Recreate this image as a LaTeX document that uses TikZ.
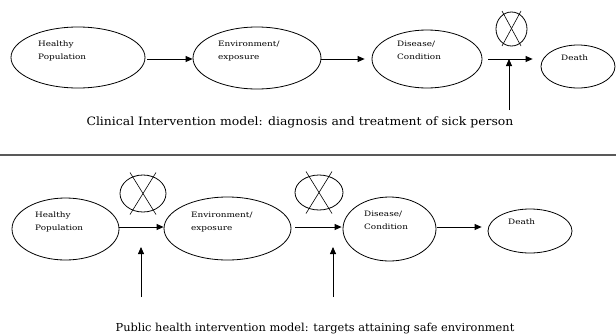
\documentclass[tikz,border=0pt]{standalone}
\usepackage{fontspec}
\setmainfont{DejaVu Serif}
\newfontfamily\lblfont[FakeStretch=1.2]{DejaVu Serif}
\newfontfamily\capfonta[FakeStretch=1.08]{DejaVu Serif}
\newfontfamily\capfontb[FakeStretch=1.035]{DejaVu Serif}
\usetikzlibrary{shapes.geometric,arrows.meta,calc}
\begin{document}
\begin{tikzpicture}[x=1pt,y=-1pt,
  ell/.style={draw,ellipse,inner sep=0pt,line width=0.8pt},
  lbl/.style={anchor=north west,inner sep=0pt,align=left,font=\lblfont\fontsize{7.4}{13}\selectfont},
  captext/.style={anchor=base,inner sep=0pt},
  arr/.style={-{Triangle[length=7pt,width=6pt]},line width=0.8pt},
  xl/.style={line width=0.6pt}]
\useasboundingbox (0,0) rectangle (616,335);
% top row
\node[ell,minimum width=134pt,minimum height=61pt] (h1) at (78,57.5) {};
\node[ell,minimum width=128pt,minimum height=62pt] (e1) at (257,58) {};
\node[ell,minimum width=110pt,minimum height=58pt] (d1) at (427,59) {};
\node[ell,minimum width=74pt,minimum height=43pt] (t1) at (578,66.5) {};
\node[ell,minimum width=31pt,minimum height=34pt] (x1) at (511.5,29) {};
\draw[xl] ($(x1.center)+(-9.5,-18)$) -- ($(x1.center)+(9.5,17)$);
\draw[xl] ($(x1.center)+(9.5,-18)$) -- ($(x1.center)+(-9.5,17)$);
\node[lbl] (h1t) at (38,41) {Healthy\\Population};
\node[lbl] (e1t) at (218,41) {Environment/\\exposure};
\node[lbl] (d1t) at (397,41) {Disease/\\Condition};
\node[lbl] (t1t) at (561,55) {Death};
\draw[arr] ($(h1.east)+(2,1.5)$) -- ($(e1.west)+(0,1)$);
\draw[arr,shorten >=7pt] ($(e1.east)+(0,1)$) -- (d1.west);
\draw[arr,shorten <=6pt,shorten >=8pt] (d1.east) -- (d1.east -| t1.west);
\coordinate (v1) at (509,110);
\draw[arr] (v1) -- (v1 |- d1.east);
\node[captext,font=\capfonta\fontsize{11.5}{13}\selectfont] (c1) at (300,125) {Clinical Intervention model: diagnosis and treatment of sick person};
% separator
\coordinate (s1) at (0,155);
\coordinate (s2) at (616,155);
\draw[line width=1.5pt,gray!70!black] (s1) -- (s2);
% bottom row
\node[ell,minimum width=107pt,minimum height=62pt] (h2) at (65.5,229) {};
\node[ell,minimum width=127pt,minimum height=63pt] (e2) at (227.5,228.5) {};
\node[ell,minimum width=93pt,minimum height=64pt] (d2) at (389.5,229) {};
\node[ell,minimum width=84pt,minimum height=44pt] (t2) at (530,231) {};
\node[ell,minimum width=46pt,minimum height=37pt] (x2) at (143,193.5) {};
\node[ell,minimum width=48pt,minimum height=35pt] (x3) at (319,192.5) {};
\foreach \n in {x2,x3}{
  \draw[xl] ($(\n.center)+(-13,-21)$) -- ($(\n.center)+(13,21)$);
  \draw[xl] ($(\n.center)+(13,-21)$) -- ($(\n.center)+(-13,21)$);
}
\node[lbl] (h2t) at (35,212) {Healthy\\Population};
\node[lbl] (e2t) at (191,212) {Environment/\\exposure};
\node[lbl] (d2t) at (364,211) {Disease/\\Condition};
\node[lbl] (t2t) at (508,219) {Death};
\draw[arr] ($(h2.east)+(0,-2)$) -- ($(e2.west)+(0,-1.5)$);
\draw[arr,shorten <=4pt,shorten >=1pt] ($(e2.east)+(0,-1.5)$) -- ($(d2.west)+(0,-2)$);
\draw[arr,shorten <=1pt,shorten >=6pt] ($(d2.east)+(0,-2)$) -- ($(t2.west)+(0,-4)$);
\coordinate (v2) at (141,297);
\coordinate (v2t) at (141,247);
\draw[arr] (v2) -- (v2t);
\coordinate (v3) at (333,297);
\coordinate (v3t) at (333,247);
\draw[arr] (v3) -- (v3t);
\node[captext,font=\capfontb\fontsize{11}{13}\selectfont] (c2) at (315,331) {Public health intervention model: targets attaining safe environment};
\end{tikzpicture}
\end{document}
